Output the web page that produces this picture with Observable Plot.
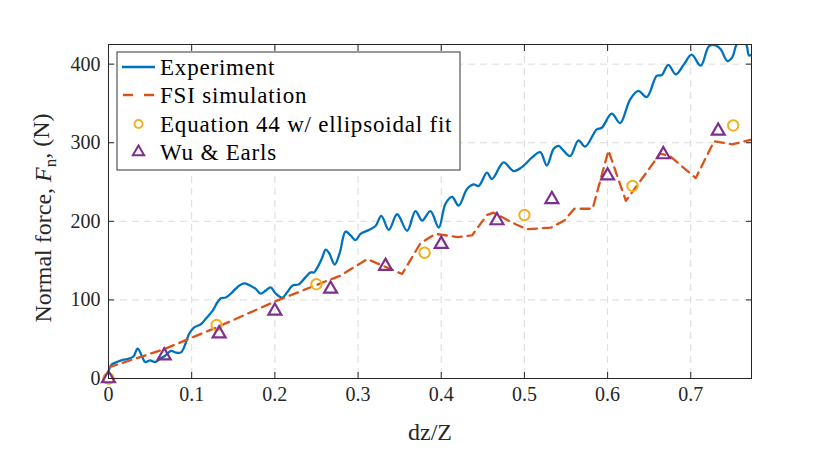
<!DOCTYPE html>
<html><head><meta charset="utf-8">
<script src="https://cdn.jsdelivr.net/npm/d3@7"></script>
<script src="https://cdn.jsdelivr.net/npm/@observablehq/plot@0.6"></script>
<style>body{margin:0;background:#fff;}</style>
</head><body><div id="chart"></div>
<script>
// Experiment (blue solid)
const expX = [0,0.004,0.010,0.018,0.024,0.030,0.035,0.040,0.044,0.050,0.056,0.062,0.068,0.075,0.081,0.087,0.091,0.097,0.103,0.111,0.117,0.125,0.131,0.135,0.141,0.149,0.157,0.163,0.169,0.177,0.183,0.189,0.195,0.201,0.209,0.215,0.221,0.229,0.237,0.243,0.247,0.251,0.257,0.261,0.265,0.272,0.278,0.285,0.291,0.297,0.303,0.313,0.321,0.328,0.337,0.347,0.359,0.369,0.377,0.387,0.397,0.405,0.413,0.421,0.431,0.439,0.445,0.455,0.461,0.475,0.487,0.497,0.509,0.519,0.527,0.535,0.541,0.547,0.555,0.565,0.573,0.587,0.593,0.605,0.615,0.627,0.637,0.647,0.659,0.665,0.673,0.682,0.692,0.701,0.712,0.722,0.730,0.736,0.744,0.750,0.756,0.766,0.770,0.773];
const expY = [10,18,21,24,25,28,38,29,21,23,21,25,29,35,33,33,40,57,65,69,76,86,97,102,103,110,118,121,119,114,108,112,116,108,103,110,118,120,129,135,135,141,154,164,160,145,160,187,182,176,184,189,194,207,189,209,188,213,201,213,192,222,231,220,241,247,245,262,254,275,264,269,281,288,271,292,296,290,283,303,295,317,319,337,325,355,366,358,385,386,399,387,400,412,398,423,424,419,404,409,426,426,411,412];
// FSI simulation (orange dashed)
const fsiX = [0,0.066,0.13,0.2,0.25,0.279,0.311,0.353,0.375,0.393,0.42,0.437,0.455,0.463,0.49,0.503,0.532,0.548,0.56,0.582,0.601,0.622,0.663,0.675,0.706,0.728,0.75,0.773];
const fsiY = [14,37,65,98,119,131,152,133,172,184,180,182,208,211,196,190,192,201,216,216,290,226,286,283,255,302,298,304];
// Equation 44 w/ ellipsoidal fit (yellow circles)
const eqX = [0,0.13,0.25,0.38,0.5,0.63,0.751];
const eqY = [0,68,120,160,208,245,322];
// Wu & Earls (purple triangles)
const wuX = [0,0.067,0.133,0.2,0.267,0.333,0.4,0.467,0.533,0.6,0.667,0.733];
const wuY = [0,29,57,86,114,143,171,201,228,258,285,315];
// ticks
const xTicks = [0,0.1,0.2,0.3,0.4,0.5,0.6,0.7];
const yTicks = [0,100,200,300,400];
const legendLabels = ["Experiment","FSI simulation","Equation 44 w/ ellipsoidal fit","Wu & Earls"];

const C = {blue:"#0072BD", orange:"#D95319", yellow:"#EDB120", purple:"#7E2F8E", ink:"#262626"};
const zip = (xs, ys) => xs.map((x,i)=>({x, y: ys[i]}));
const exp = zip(expX, expY), fsi = zip(fsiX, fsiY), eq = zip(eqX, eqY), wu = zip(wuX, wuY);
const FONT = "'Liberation Serif', 'Times New Roman', serif";

const chart = Plot.plot({
  width: 830, height: 457,
  marginLeft: 108, marginRight: 79, marginTop: 44, marginBottom: 79,
  x: {domain: [0, 0.773]},
  y: {domain: [0, 425]},
  style: {fontFamily: FONT, fontSize: "20px", color: C.ink, background: "#fff"},
  marks: [
    Plot.gridX(xTicks.slice(1), {stroke: "#999", strokeOpacity: 0.35, strokeDasharray: "7,5"}),
    Plot.gridY(yTicks.slice(1), {stroke: "#999", strokeOpacity: 0.35, strokeDasharray: "7,5"}),
    Plot.line(exp, {x: "x", y: "y", stroke: C.blue, strokeWidth: 2.3, curve: "catmull-rom", clip: true}),
    Plot.line(fsi, {x: "x", y: "y", stroke: C.orange, strokeWidth: 2.3, strokeDasharray: "9,6", clip: true}),
    Plot.dot(eq, {x: "x", y: "y", r: 5.2, stroke: C.yellow, strokeWidth: 2, fill: "none"}),
    Plot.dot(wu, {x: "x", y: "y", symbol: "triangle", r: 4.8, stroke: C.purple, strokeWidth: 2.2, fill: "none"}),
    Plot.frame({stroke: C.ink}),
    Plot.axisX(xTicks, {anchor: "bottom", tickSize: -6, tickPadding: 14, label: null, stroke: C.ink, fill: C.ink, tickFormat: d => String(d)}),
    Plot.axisX(xTicks, {anchor: "top", tickSize: -6, label: null, stroke: C.ink, tickFormat: () => ""}),
    Plot.axisY(yTicks, {anchor: "left", tickSize: -6, tickPadding: 14, label: null, stroke: C.ink, fill: C.ink, tickFormat: d => String(d)}),
    Plot.axisY(yTicks, {anchor: "right", tickSize: -6, label: null, stroke: C.ink, tickFormat: () => ""})
  ]
});
document.getElementById("chart").appendChild(chart);

const svg = d3.select(chart);
// axis titles
svg.append("text").attr("x", 430).attr("y", 440).attr("text-anchor", "middle")
  .attr("font-family", FONT).attr("font-size", 24).attr("fill", C.ink).text("dz/Z");
const yl = svg.append("text").attr("transform", "translate(51,218) rotate(-90)").attr("text-anchor", "middle")
  .attr("font-family", FONT).attr("font-size", 24).attr("fill", C.ink);
yl.append("tspan").text("Normal force, ");
yl.append("tspan").attr("font-style", "italic").text("F");
yl.append("tspan").attr("font-size", 17).attr("dy", "0.3em").text("n");
yl.append("tspan").attr("dy", "-0.3em").text(", (N)");

// legend
const lg = svg.append("g").attr("font-family", FONT).attr("font-size", 23).attr("fill", "#000").attr("text-anchor", "start");
lg.append("rect").attr("x", 117).attr("y", 52).attr("width", 343).attr("height", 118)
  .attr("fill", "#fff").attr("stroke", "#555").attr("stroke-width", 1.2);
const rows = [67, 95, 124, 152];
lg.append("line").attr("x1", 122).attr("x2", 155).attr("y1", rows[0]).attr("y2", rows[0]).attr("stroke", C.blue).attr("stroke-width", 2.3);
lg.append("line").attr("x1", 123).attr("x2", 155).attr("y1", rows[1]).attr("y2", rows[1]).attr("stroke", C.orange).attr("stroke-width", 2.3).attr("stroke-dasharray", "10,11");
lg.append("circle").attr("cx", 138.5).attr("cy", rows[2]).attr("r", 4).attr("fill", "none").attr("stroke", C.yellow).attr("stroke-width", 2);
lg.append("path").attr("transform", `translate(138.5,${rows[3]})`).attr("d", d3.symbol(d3.symbolTriangle, 55)()).attr("fill", "none").attr("stroke", C.purple).attr("stroke-width", 2);
legendLabels.forEach((t, i) => {
  lg.append("text").attr("x", 160).attr("y", rows[i]).attr("dy", "0.34em").attr("text-anchor", "start").attr("letter-spacing", "0.8px").text(t);
});
</script>
</body></html>
